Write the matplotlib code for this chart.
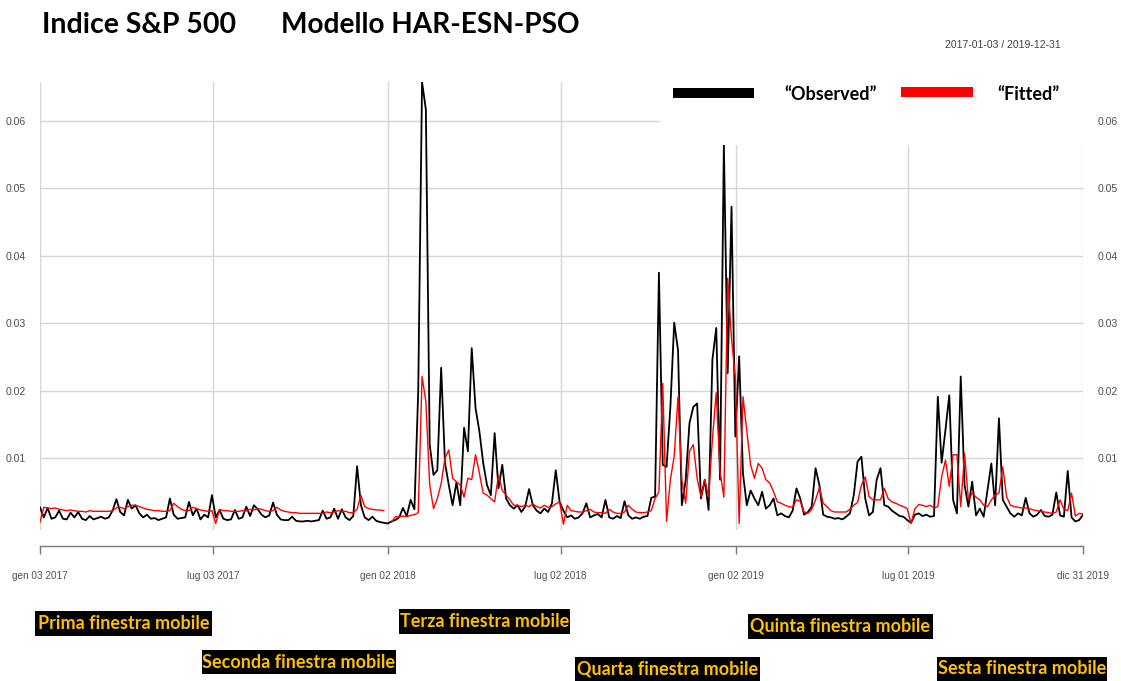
import numpy as np
import pandas as pd
import matplotlib
matplotlib.use('Agg')
import matplotlib.pyplot as plt
from matplotlib.patches import Rectangle
from matplotlib.ticker import FuncFormatter

# ---------------- data (4-day sampling) ----------------
dates = pd.date_range('2017-01-03', '2019-12-31', freq='4D')

observed_milli = [
    # 2017 H1
    2.7, 1.2, 2.6, 1.0, 1.2, 2.2, 1.0, 0.9, 1.9, 1.2,
    2.0, 1.0, 0.8, 1.4, 0.9, 1.1, 1.3, 1.0, 1.2, 2.2,
    3.9, 2.0, 1.5, 3.8, 2.5, 3.0, 1.8, 1.2, 1.6, 1.0,
    1.1, 0.8, 1.0, 1.2, 4.0, 1.6, 1.0, 1.1, 1.2, 3.5,
    1.5, 2.5, 0.9, 1.6, 1.2, 4.5,
    # 2017 H2
    1.2, 2.3, 1.0, 0.8, 0.9, 2.3, 1.0, 1.2, 2.8, 1.4,
    3.0, 2.4, 1.6, 1.2, 1.5, 3.4, 1.6, 0.9, 0.8, 0.8,
    1.3, 0.7, 0.6, 0.6, 0.7, 0.6, 0.7, 0.8, 2.2, 1.0,
    1.2, 2.5, 1.0, 2.4, 1.2, 0.8, 1.4, 8.8, 3.0, 1.2,
    0.8, 1.3, 0.7, 0.5, 0.4, 0.3,
    # 2018 H1
    0.6, 0.8, 1.2, 2.6, 1.4, 3.8, 2.4, 19.9, 65.8, 61.7,
    12.0, 7.5, 8.2, 23.4, 9.3, 6.0, 3.0, 6.4, 3.0, 14.5,
    11.0, 26.3, 17.4, 14.0, 9.3, 6.0, 4.5, 13.7, 5.5, 9.0,
    4.0, 3.0, 2.5, 3.0, 2.0, 2.8, 5.4, 3.0, 2.2, 1.8,
    2.5, 2.0, 3.3, 8.2, 3.5,
    # 2018 H2
    2.2, 1.2, 1.5, 1.0, 1.2, 1.8, 3.3, 1.2, 1.5, 1.7,
    1.2, 3.8, 1.2, 1.0, 1.4, 1.1, 3.6, 1.5, 1.0, 1.2,
    1.0, 1.3, 1.4, 4.1, 4.3, 37.5, 9.0, 8.7, 17.6, 30.1,
    26.0, 3.0, 6.7, 15.2, 17.6, 18.1, 4.0, 6.8, 2.3, 24.6,
    29.3, 6.8, 56.5, 22.6, 47.3, 13.2,
    # 2019 H1
    25.1, 7.7, 3.0, 5.2, 4.0, 3.0, 5.0, 2.5, 3.0, 4.0,
    1.5, 1.8, 1.4, 1.2, 2.2, 5.5, 4.0, 1.6, 2.0, 2.8,
    8.5, 6.0, 1.6, 1.3, 1.2, 1.0, 1.1, 0.9, 1.3, 1.8,
    4.5, 9.5, 10.2, 4.0, 1.5, 2.0, 6.8, 8.5, 3.0, 2.8,
    2.2, 1.8, 1.4, 1.3, 0.8,
    # 2019 H2
    0.4, 1.6, 1.8, 1.4, 1.6, 1.3, 1.4, 19.1, 9.3, 14.2,
    19.3, 3.8, 1.8, 22.1, 6.0, 2.8, 6.5, 1.5, 2.5, 1.3,
    5.3, 9.2, 3.0, 15.9, 3.8, 2.8, 1.8, 1.3, 1.8, 1.5,
    4.1, 1.8, 1.3, 1.6, 2.3, 1.4, 1.3, 1.6, 4.9, 1.5,
    1.3, 8.1, 1.2, 0.6, 0.8, 1.6,
]

fitted_milli = [
    # 2017 H1
    0.5, 2.7, 2.6, 2.5, 2.6, 2.4, 2.3, 2.2, 2.3, 2.2,
    2.1, 2.1, 2.0, 2.2, 2.1, 2.1, 2.1, 2.1, 2.1, 2.2,
    2.6, 2.7, 2.5, 2.8, 3.0, 3.0, 2.8, 2.6, 2.4, 2.3,
    2.2, 2.2, 2.1, 2.1, 2.2, 3.3, 2.8, 2.4, 2.2, 2.2,
    2.7, 2.5, 2.3, 2.2, 2.1, 2.2,
    # 2017 H2
    0.3, 2.4, 2.2, 2.2, 2.1, 2.1, 2.1, 2.2, 2.2, 2.4,
    2.3, 2.5, 2.4, 2.2, 2.1, 2.2, 2.7, 2.3, 2.1, 2.0,
    1.9, 1.9, 1.8, 1.8, 1.8, 1.8, 1.8, 1.8, 1.8, 2.0,
    1.9, 2.0, 2.2, 2.1, 2.1, 1.9, 1.9, 2.4, 4.5, 2.8,
    2.5, 2.4, 2.3, 2.3, 2.2, np.nan,
    # 2018 H1
    0.5, 1.3, 1.3, 1.4, 1.3, 1.5, 1.6, 1.9, 22.1, 18.4,
    6.0, 2.5, 4.0, 6.2, 10.0, 11.2, 7.0, 6.5, 6.0, 4.2,
    7.0, 6.8, 10.5, 7.8, 4.8, 4.5, 4.0, 3.5, 7.5, 5.2,
    4.5, 3.8, 3.0, 3.0, 2.8, 3.0, 2.8, 3.2, 2.8, 2.6,
    3.0, 2.7, 2.8, 3.2, 3.5,
    # 2018 H2
    0.2, 3.0, 2.2, 2.1, 2.0, 2.0, 2.2, 2.4, 2.0, 1.9,
    1.9, 1.8, 2.4, 2.0, 1.8, 1.8, 2.0, 3.0, 2.4, 2.0,
    1.9, 1.9, 2.0, 2.2, 4.0, 5.0, 21.1, 0.6, 6.8, 10.3,
    19.1, 6.8, 3.3, 11.0, 12.0, 7.0, 4.3, 6.8, 4.2, 12.8,
    19.7, 8.0, 4.2, 36.7, 27.7, 22.0,
    # 2019 H1
    0.3, 19.1, 14.0, 9.0, 7.0, 9.2, 8.5, 6.8, 6.3, 5.0,
    3.5, 3.3, 3.0, 2.8, 2.7, 3.8, 3.6, 2.0, 1.8, 2.4,
    3.8, 5.6, 3.3, 2.8, 2.2, 2.0, 2.0, 2.0, 2.0, 2.4,
    3.0, 3.4, 6.0, 7.2, 4.3, 3.8, 3.8, 3.8, 5.5, 4.0,
    3.5, 3.3, 3.0, 2.8, 2.5,
    # 2019 H2
    0.3, 2.5, 3.1, 3.0, 2.8, 3.0, 2.6, 2.8, 7.2, 9.7,
    5.8, 10.5, 10.5, 2.8, 10.7, 3.8, 4.8, 4.2, 3.8, 3.0,
    2.8, 3.8, 4.5, 4.8, 8.7, 4.3, 3.0, 2.8, 2.7, 2.6,
    2.6, 2.5, 2.3, 2.2, 2.1, 2.0, 1.9, 1.8, 2.0, 3.8,
    2.4, 2.2, 4.8, 1.4, 1.8, 1.7,
]

observed = np.array(observed_milli) / 1000.0
fitted = np.array(fitted_milli) / 1000.0

tick_dates = pd.to_datetime(['2017-01-03', '2017-07-03', '2018-01-02', '2018-07-02',
                             '2019-01-02', '2019-07-01', '2019-12-31'])
tick_labels = ['gen 03 2017', 'lug 03 2017', 'gen 02 2018', 'lug 02 2018',
               'gen 02 2019', 'lug 01 2019', 'dic 31 2019']
y_ticks = [0.01, 0.02, 0.03, 0.04, 0.05, 0.06]

title_left = 'Indice S&P 500'
title_right = 'Modello HAR-ESN-PSO'
date_range_text = '2017-01-03 / 2019-12-31'
legend_labels = ['\u201cObserved\u201d', '\u201cFitted\u201d']
window_labels = ['Prima finestra mobile', 'Seconda finestra mobile', 'Terza finestra mobile',
                 'Quarta finestra mobile', 'Quinta finestra mobile', 'Sesta finestra mobile']

# ---------------- figure ----------------
W, H = 1121, 681
fig = plt.figure(figsize=(W / 100, H / 100), dpi=100)
fig.patch.set_facecolor('white')

def fx(px):
    return px / W

def fy(py):
    return 1 - py / H

ax = fig.add_axes([fx(40), fy(530), fx(1083) - fx(40), fy(82) - fy(530)])
ax.plot(dates, observed, color='black', lw=1.3, zorder=3)
ax.plot(dates, fitted, color='#FF0000', lw=1.0, zorder=4)

ax.set_xlim(dates[0], dates[-1])
ax.set_ylim(-0.00067, 0.0658)

ax.set_xticks(tick_dates)
ax.set_xticklabels(tick_labels)
ax.set_yticks(y_ticks)
ax.yaxis.set_major_formatter(FuncFormatter(lambda v, p: f'{v:.2f}'))
ax.grid(True, color='#d6d6d6', lw=1.0, zorder=0)

for s in ['top', 'left', 'right']:
    ax.spines[s].set_visible(False)
ax.spines['bottom'].set_position(('outward', 11.5))
ax.spines['bottom'].set_color('#7a7a7a')
ax.spines['bottom'].set_linewidth(1.0)

ax.tick_params(axis='x', direction='out', length=6, width=1.0, color='#7a7a7a',
               pad=12, labelsize=7.2, labelcolor='#505050')
ax.tick_params(axis='y', left=False, right=False, labelleft=True, labelright=True,
               labelsize=7.6, labelcolor='#505050', pad=7)
for lab in ax.get_xticklabels() + ax.get_yticklabels():
    lab.set_family('Liberation Sans')

# ---------------- annotations ----------------
fig.text(fx(42), fy(25), title_left, family='Lato', fontweight='bold', fontsize=20.5,
         va='center', ha='left', color='black')
fig.text(fx(281), fy(25), title_right, family='Lato', fontweight='bold', fontsize=20.2,
         va='center', ha='left', color='black')
fig.text(fx(1003), fy(45), date_range_text, family='Liberation Sans', fontsize=7.5,
         color='#404040', ha='center', va='center')

# white legend panel covering the top-right of the plot
fig.add_artist(Rectangle((fx(660), fy(145)), fx(1088) - fx(660), fy(55) - fy(145),
                         transform=fig.transFigure, facecolor='white', edgecolor='none', zorder=5))
fig.add_artist(Rectangle((fx(673), fy(98)), fx(754) - fx(673), fy(88) - fy(98),
                         transform=fig.transFigure, facecolor='black', edgecolor='none', zorder=6))
fig.add_artist(Rectangle((fx(901), fy(97)), fx(973) - fx(901), fy(87) - fy(97),
                         transform=fig.transFigure, facecolor='#FF0000', edgecolor='none', zorder=6))
fig.text(fx(831), fy(94), legend_labels[0], family='Lato', fontweight='bold', fontsize=13,
         ha='center', va='center', zorder=7)
fig.text(fx(1028), fy(94), legend_labels[1], family='Lato', fontweight='bold', fontsize=13,
         ha='center', va='center', zorder=7)

# window labels (black boxes, gold text)
boxes = [(35, 611, 212, 636), (202, 650, 396, 674), (399, 609, 570, 634),
         (575, 657, 760, 681), (748, 614, 933, 639), (937, 657, 1107, 681)]
for (x0, y0, x1, y1), lab in zip(boxes, window_labels):
    fig.add_artist(Rectangle((fx(x0), fy(y1)), fx(x1) - fx(x0), fy(y0) - fy(y1),
                             transform=fig.transFigure, facecolor='black', edgecolor='none', zorder=6))
    fig.text(fx((x0 + x1) / 2), fy((y0 + y1) / 2), lab, family='Lato', fontweight='bold',
             fontsize=13, color='#FFC000', ha='center', va='center', zorder=7)

fig.savefig('out.png', dpi=100, facecolor='white')
